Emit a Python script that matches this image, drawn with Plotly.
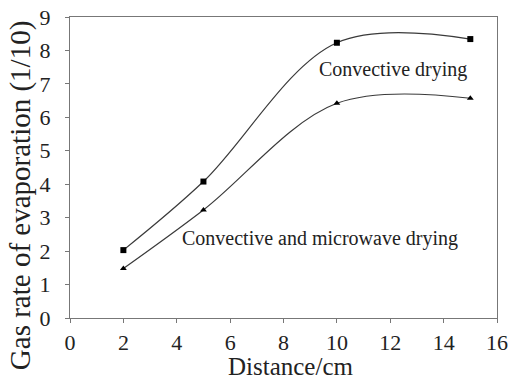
import plotly.graph_objects as go

distance = [2, 5, 10, 15]
convective = [2.03, 4.08, 8.23, 8.34]
conv_micro = [1.48, 3.23, 6.42, 6.57]
x_ticks = [0, 2, 4, 6, 8, 10, 12, 14, 16]
y_ticks = [0, 1, 2, 3, 4, 5, 6, 7, 8, 9]

font = "Liberation Serif, Times New Roman, serif"
fig = go.Figure()
fig.add_trace(go.Scatter(x=distance, y=convective, mode="lines+markers",
                         line=dict(shape="spline", smoothing=1, color="#3a3a3a", width=1.2),
                         marker=dict(symbol="square", size=6, color="black")))
fig.add_trace(go.Scatter(x=distance, y=conv_micro, mode="lines+markers",
                         line=dict(shape="spline", smoothing=1, color="#3a3a3a", width=1.2),
                         marker=dict(symbol="triangle-up", size=6, color="black")))

fig.add_annotation(x=12.1, y=7.43, text="Convective drying", showarrow=False,
                   font=dict(family=font, size=20, color="#222"))
fig.add_annotation(x=9.35, y=2.37, text="Convective and microwave drying", showarrow=False,
                   font=dict(family=font, size=20, color="#222"))
# axis titles
fig.add_annotation(xref="paper", yref="paper", x=-0.117, y=0.405, text="Gas rate of evaporation (1/10)",
                   textangle=-90, showarrow=False, xanchor="center", yanchor="middle",
                   font=dict(family=font, size=29, color="#222"))
fig.add_annotation(xref="paper", yref="paper", x=0.518, y=-0.162, text="Distance/cm",
                   showarrow=False, xanchor="center", yanchor="middle",
                   font=dict(family=font, size=25, color="#222"))

axis_common = dict(showgrid=False, zeroline=False, showline=True, linecolor="#777",
                   linewidth=1.2, mirror=True, ticks="outside", ticklen=4, tickcolor="#777",
                   automargin=False, ticklabeloverflow="allow",
                   tickfont=dict(family=font, size=22, color="#222"))
fig.update_xaxes(range=[0, 16], tickvals=x_ticks, ticklabelstandoff=0, **axis_common)
fig.update_yaxes(range=[0, 9], tickvals=y_ticks, ticklabelstandoff=10, **axis_common)
fig.update_layout(width=509, height=381, margin=dict(l=70, r=12, t=17, b=63),
                  showlegend=False, plot_bgcolor="white", paper_bgcolor="white")
fig.write_html("out.html", config={"displayModeBar": False},
               post_script="document.body.style.margin='0';document.body.style.overflow='hidden';")
